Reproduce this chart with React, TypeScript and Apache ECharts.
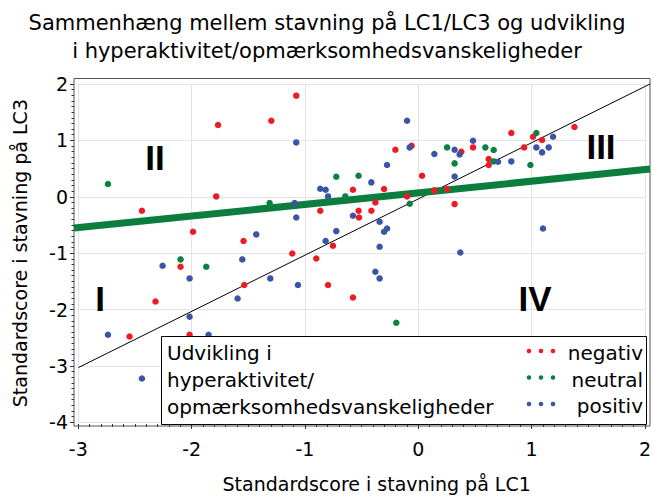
import React, { useEffect, useRef } from "react";
import * as echarts from "echarts";

// ---------- data ----------
const groupNames = ["negativ", "neutral", "positiv"];
const groupColors = ["#ED1C24", "#0B8043", "#3A55A6"];

const negativ: number[][] = [
  [-1.778, 1.277], [-1.312, 1.353], [-1.794, 0.018], [-2.444, -0.235], [-1.094, 1.794],
  [-0.085, 0.912], [-0.227, 0.841], [0.35, 0.806], [0.006, 0.383], [-0.598, 0.136],
  [-0.326, 0.148], [0.225, 0.148], [0.114, 0.124], [-0.125, 0.018], [-0.402, -0.088],
  [0.291, -0.117], [-0.884, -0.235], [-0.549, -0.235], [-0.437, -0.235], [-0.545, -0.353],
  [1.339, 1.242], [0.787, 1.136], [0.977, 1.07], [1.056, 1.012], [0.452, 0.882],
  [0.899, 0.882], [0.589, 0.677], [0.589, 0.571], [-1.997, -0.605], [-1.555, -0.769],
  [-2.106, -1.222], [-1.549, -1.545], [-2.325, -1.834], [-2.552, -2.451], [-2.027, -2.421],
  [-0.773, -0.852], [-1.129, -0.988], [-0.919, -1.076], [-0.816, -1.545], [-0.598, -1.764],
];

const neutral: number[][] = [
  [-2.741, 0.236], [0.225, 0.882], [0.291, 0.6], [-0.744, 0.365], [-0.549, 0.383],
  [-0.665, 0.018], [-1.327, -0.1], [-0.102, -0.111], [1.006, 1.136], [0.56, 0.882],
  [0.633, 0.836], [0.633, 0.635], [0.954, 0.571], [-2.106, -1.093], [-1.881, -1.222],
  [-0.219, -2.21],
];

const positiv: number[][] = [
  [-1.094, 0.97], [-0.125, 1.353], [-0.102, 0.882], [0.291, 0.841], [0.335, 0.759],
  [0.114, 0.765], [-0.3, 0.571], [0.291, 0.37], [-0.437, 0.265], [-0.884, 0.153],
  [-0.837, 0.136], [-0.816, 0.018], [-1.108, -0.1], [1.152, 1.07], [0.452, 1.0],
  [1.006, 0.882], [1.114, 0.882], [1.056, 0.794], [0.671, 0.63], [0.787, 0.635],
  [1.064, -0.547], [0.341, -0.97], [-1.444, -0.652], [-2.263, -1.205], [-1.566, -1.093],
  [-2.027, -1.428], [-1.321, -1.428], [-1.607, -1.781], [-2.027, -2.104], [-2.741, -2.421],
  [-1.861, -2.421], [-2.444, -3.192], [-1.094, -0.353], [-0.598, -0.323], [-0.365, -0.429],
  [-0.744, -0.593], [-0.3, -0.547], [-0.326, -0.605], [-0.837, -0.769], [-0.365, -0.87],
  [-1.079, -1.545], [-0.402, -1.311], [-0.365, -1.428],
];

const identityLine: number[][] = [[-3, -3], [2, 2]];
const regressionLine: number[][] = [[-3.038, -0.54], [2, 0.5]];

const quadrantLabels = ["II", "III", "I", "IV"];
const legendTitleLines = ["Udvikling i", "hyperaktivitet/", "opmærksomhedsvanskeligheder"];
const titleText = "Sammenhæng mellem stavning på LC1/LC3 og udvikling\ni hyperaktivitet/opmærksomhedsvanskeligheder";
const xTitle = "Standardscore i stavning på LC1";
const yTitle = "Standardscore i stavning på LC3";

// ---------- chart ----------
const FONT = "DejaVu Sans";

export default function App() {
  const ref = useRef<HTMLDivElement>(null);

  useEffect(() => {
    if (!ref.current) return;
    const chart = echarts.init(ref.current, undefined, { renderer: "svg" });

    const seriesData = [negativ, neutral, positiv];

    const quadrantPos = [
      [155, 157],
      [601, 146],
      [100, 298],
      [535, 298],
    ];

    const graphic: any[] = [];
    quadrantLabels.forEach((t, i) => {
      graphic.push({
        type: "text",
        x: quadrantPos[i][0],
        y: quadrantPos[i][1],
        z: 50,
        style: {
          text: t,
          fill: "#000",
          font: "bold 35px 'Liberation Sans'",
          textAlign: "center",
          textVerticalAlign: "middle",
        },
      });
    });

    // legend box
    graphic.push({
      type: "rect",
      z: 100,
      shape: { x: 161.5, y: 336.5, width: 485, height: 88 },
      style: { fill: "#fff", stroke: "#000", lineWidth: 1 },
    });
    legendTitleLines.forEach((t, i) => {
      graphic.push({
        type: "text",
        z: 101,
        x: 167,
        y: 353 + i * 27,
        style: {
          text: t,
          fill: "#000",
          font: `20px '${FONT}'`,
          textAlign: "left",
          textVerticalAlign: "middle",
        },
      });
    });
    groupNames.forEach((name, i) => {
      for (let k = 0; k < 3; k++) {
        graphic.push({
          type: "circle",
          z: 101,
          shape: { cx: 529 + k * 12, cy: 351 + i * 26.5, r: 2.3 },
          style: { fill: groupColors[i] },
        });
      }
      graphic.push({
        type: "text",
        z: 101,
        x: 643,
        y: 353 + i * 26.5,
        style: {
          text: name,
          fill: "#000",
          font: `20px '${FONT}'`,
          textAlign: "right",
          textVerticalAlign: "middle",
        },
      });
    });

    const option: any = {
      animation: false,
      backgroundColor: "#fff",
      textStyle: { fontFamily: FONT },
      title: {
        text: titleText,
        left: "center",
        top: 4,
        textStyle: {
          fontFamily: FONT,
          fontSize: 21,
          fontWeight: "normal",
          color: "#000",
          lineHeight: 28,
        },
      },
      grid: [
        {
          left: 74,
          right: 4,
          top: 78.5,
          bottom: 72,
          show: true,
          borderColor: "#555",
          borderWidth: 1,
          backgroundColor: "transparent",
        },
        {
          left: 78.3,
          right: 4,
          top: 84,
          bottom: 73.7,
        },
      ],
      xAxis: [
        {
          type: "value",
          gridIndex: 0,
          min: -3.038,
          max: 2,
          show: false,
        },
        {
          type: "value",
          gridIndex: 1,
          min: -3,
          max: 2,
          interval: 1,
          position: "bottom",
          offset: 1.7,
          axisLine: { show: false, onZero: false },
          axisTick: { show: true, length: 5, lineStyle: { color: "#333" } },
          minorTick: { show: true, splitNumber: 10, length: 3, lineStyle: { color: "#333" } },
          splitLine: { show: true, lineStyle: { color: "#e3e3e3", width: 1 } },
          axisLabel: { fontFamily: FONT, fontSize: 19, color: "#000", margin: 15 },
          name: xTitle,
          nameLocation: "middle",
          nameGap: 50,
          nameTextStyle: { fontFamily: FONT, fontSize: 19, color: "#000", padding: [0, 0, 0, 30] },
        },
      ],
      yAxis: [
        {
          type: "value",
          gridIndex: 0,
          min: -4.03,
          max: 2.097,
          show: false,
        },
        {
          type: "value",
          gridIndex: 1,
          min: -4,
          max: 2,
          interval: 1,
          position: "left",
          offset: 4.3,
          axisLine: { show: false, onZero: false },
          axisTick: { show: true, length: 4, lineStyle: { color: "#333" } },
          minorTick: { show: true, splitNumber: 10, length: 2.5, lineStyle: { color: "#333" } },
          splitLine: { show: true, lineStyle: { color: "#e3e3e3", width: 1 } },
          axisLabel: { fontFamily: FONT, fontSize: 19, color: "#000", margin: 6 },
          name: yTitle,
          nameLocation: "middle",
          nameGap: 45,
          nameTextStyle: { fontFamily: FONT, fontSize: 19, color: "#000" },
        },
      ],
      series: [
        {
          type: "line",
          name: "identity",
          xAxisIndex: 0,
          yAxisIndex: 0,
          data: identityLine,
          showSymbol: false,
          symbol: "none",
          lineStyle: { color: "#000", width: 1 },
          z: 3,
          silent: true,
        },
        {
          type: "line",
          name: "regression",
          xAxisIndex: 0,
          yAxisIndex: 0,
          data: regressionLine,
          symbol: "none",
          lineStyle: { color: "#0B7D3E", width: 7 },
          z: 3,
          silent: true,
        },
        ...groupNames.map((name, i) => ({
          type: "scatter",
          name,
          xAxisIndex: 0,
          yAxisIndex: 0,
          data: seriesData[i],
          symbol: "circle",
          symbolSize: 6.5,
          itemStyle: { color: groupColors[i], opacity: 1 },
          z: 4,
        })),
      ],
      graphic,
    };

    chart.setOption(option);
    return () => chart.dispose();
  }, []);

  return (
    <div
      ref={ref}
      style={{ position: "fixed", left: 0, top: 0, width: 654, height: 498, background: "#fff" }}
    />
  );
}
